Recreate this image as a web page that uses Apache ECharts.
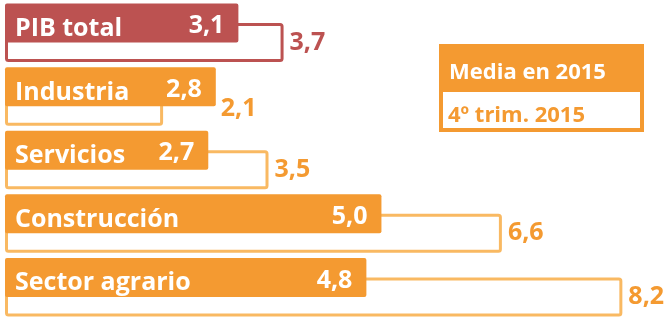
<!DOCTYPE html>
<html>
<head>
<meta charset="utf-8">
<script src="https://cdn.jsdelivr.net/npm/echarts@6/dist/echarts.min.js"></script>
<style>
  html, body { margin: 0; padding: 0; background: #fff; }
  #chart { width: 665px; height: 319px; }
</style>
</head>
<body>
<div id="chart"></div>
<script>
// datos
var sectores = ['PIB total', 'Industria', 'Servicios', 'Construcción', 'Sector agrario'];
var media2015 = [3.1, 2.8, 2.7, 5.0, 4.8];
var trim4 = [3.7, 2.1, 3.5, 6.6, 8.2];
var nombresSerie = ['Media en 2015', '4º trim. 2015'];

var ROJO = '#bc5251';
var NARANJA = '#f49a31';
var NARANJA_CLARO = '#f9b962';
var FUENTE = '"Open Sans"';

function coma(v) {
  return v.toFixed(1).replace('.', ',');
}

var chartDom = document.getElementById('chart');
var myChart = echarts.init(chartDom);

var datosMedia = media2015.map(function (v, i) {
  return {
    value: v,
    itemStyle: { color: i === 0 ? ROJO : NARANJA }
  };
});

var datosTrim = trim4.map(function (v, i) {
  return {
    value: v,
    itemStyle: { borderColor: i === 0 ? ROJO : NARANJA_CLARO },
    label: { color: i === 0 ? ROJO : NARANJA }
  };
});

var option = {
  animation: false,
  grid: {
    left: 5,
    right: 5,
    top: 1,
    height: 325
  },
  xAxis: {
    type: 'value',
    min: 0,
    max: 8.7,
    show: false
  },
  yAxis: {
    type: 'category',
    data: sectores,
    inverse: true,
    z: 10,
    axisLine: { show: false },
    axisTick: { show: false },
    splitLine: { show: false },
    axisLabel: {
      inside: true,
      margin: 10,
      formatter: function (v) { return '{n|' + v + '}'; },
      rich: {
        n: {
          color: '#fff',
          fontFamily: FUENTE,
          fontWeight: 'bold',
          fontSize: 25,
          padding: [0, 0, 8, 0]
        }
      }
    }
  },
  series: [
    {
      name: nombresSerie[0],
      type: 'bar',
      z: 3,
      barWidth: 39,
      barGap: '-50%',
      data: datosMedia,
      itemStyle: { borderRadius: 2 },
      label: {
        show: true,
        position: 'insideRight',
        distance: 14,
        offset: [0, 3],
        color: '#fff',
        fontFamily: FUENTE,
        fontWeight: 'bold',
        fontSize: 25,
        formatter: function (p) { return coma(p.value); }
      }
    },
    {
      name: nombresSerie[1],
      type: 'bar',
      z: 2,
      barWidth: 39,
      data: datosTrim,
      itemStyle: { color: '#fff', borderWidth: 3, borderRadius: 2 },
      label: {
        show: true,
        position: 'right',
        distance: 6,
        offset: [0, 3],
        fontFamily: FUENTE,
        fontWeight: 'bold',
        fontSize: 25,
        formatter: function (p) { return coma(p.value); }
      },
      // si la barra llena es más larga, la etiqueta va tras ella
      labelLayout: function (p) {
        var i = p.dataIndex;
        if (media2015[i] > trim4[i]) {
          var px = myChart.convertToPixel({ gridIndex: 0 }, [media2015[i], 0])[0];
          return {
            x: px + 5,
            y: p.labelRect.y + p.labelRect.height / 2,
            align: 'left',
            verticalAlign: 'middle'
          };
        }
      }
    }
  ],
  graphic: [
    {
      type: 'rect',
      z: 5,
      shape: { x: 441, y: 90, width: 201, height: 40 },
      style: { fill: '#fff', stroke: NARANJA, lineWidth: 4 }
    },
    {
      type: 'rect',
      z: 6,
      shape: { x: 439, y: 44, width: 205, height: 48 },
      style: { fill: NARANJA }
    },
    {
      type: 'text',
      z: 7,
      x: 449,
      y: 73,
      style: {
        text: nombresSerie[0],
        fill: '#fff',
        font: 'bold 22px ' + FUENTE,
        verticalAlign: 'middle'
      }
    },
    {
      type: 'text',
      z: 7,
      x: 448,
      y: 116,
      style: {
        text: nombresSerie[1],
        fill: NARANJA,
        font: 'bold 22px ' + FUENTE,
        verticalAlign: 'middle'
      }
    }
  ]
};

option && myChart.setOption(option);
</script>
</body>
</html>
